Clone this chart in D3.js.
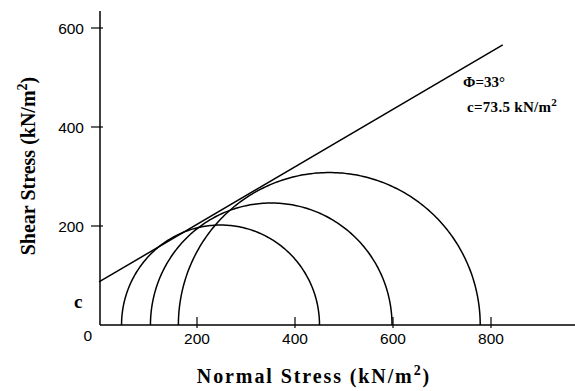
<!DOCTYPE html>
<html>
<head>
<meta charset="utf-8">
<script src="https://cdnjs.cloudflare.com/ajax/libs/d3/7.8.5/d3.min.js"></script>
<style>
  body { margin: 0; background: #fff; }
  svg { display: block; }
</style>
</head>
<body>
<div id="chart"></div>
<script>
// Mohr circles (kN/m2)
var sigma3 = [46, 105, 162];
var sigma1 = [450, 598, 778];
// failure envelope end points
var envX = [0, 824];
var envY = [87, 566];
var xTicks = [200, 400, 600, 800];
var yTicks = [200, 400, 600];

var w = 575, h = 391;

var svg = d3.select('#chart').append('svg')
  .attr('width', w).attr('height', h);

var x = d3.scaleLinear().domain([0, 800]).range([99, 491]);
var y = d3.scaleLinear().domain([0, 600]).range([325, 28]);

// axes lines
svg.append('line').attr('x1', x(0) + 1).attr('x2', x(0) + 1).attr('y1', 11).attr('y2', y(0))
  .attr('stroke', '#000').attr('stroke-width', 1.5);
svg.append('line').attr('x1', x(0) + 1).attr('x2', w).attr('y1', y(0)).attr('y2', y(0))
  .attr('stroke', '#000').attr('stroke-width', 1.5);

// y ticks
svg.selectAll('.ytick').data(yTicks).enter().append('line')
  .attr('class', 'ytick')
  .attr('x1', x(0) - 8).attr('x2', x(0) + 4)
  .attr('y1', function(d){ return y(d); }).attr('y2', function(d){ return y(d); })
  .attr('stroke', '#000').attr('stroke-width', 1.2);
svg.selectAll('.ylab').data(yTicks).enter().append('text')
  .attr('class', 'ylab')
  .attr('x', 84).attr('y', function(d){ return y(d) + 5.5; })
  .attr('text-anchor', 'end')
  .style('font-family', 'Liberation Sans, Arial, sans-serif').style('font-size', '15.5px')
  .text(function(d){ return d; });

// x ticks
svg.selectAll('.xtick').data(xTicks).enter().append('line')
  .attr('class', 'xtick')
  .attr('x1', function(d){ return x(d); }).attr('x2', function(d){ return x(d); })
  .attr('y1', y(0) - 8).attr('y2', y(0) + 3)
  .attr('stroke', '#000').attr('stroke-width', 1.2);
svg.selectAll('.xlab').data(xTicks).enter().append('text')
  .attr('class', 'xlab')
  .attr('x', function(d){ return x(d); }).attr('y', 344)
  .attr('text-anchor', 'middle')
  .style('font-family', 'Liberation Sans, Arial, sans-serif').style('font-size', '15.5px')
  .text(function(d){ return d; });

svg.append('text').attr('x', 92).attr('y', 340.5).attr('text-anchor', 'end')
  .style('font-family', 'Liberation Sans, Arial, sans-serif').style('font-size', '15.5px')
  .text('0');

// Mohr circles
var arc = d3.line().x(function(p){ return x(p[0]); }).y(function(p){ return y(p[1]); });
var circles = sigma3.map(function(s3, i){
  var c = (s3 + sigma1[i]) / 2, r = (sigma1[i] - s3) / 2;
  return d3.range(0, 181).map(function(a){
    var t = a * Math.PI / 180;
    return [c - r * Math.cos(t), r * Math.sin(t)];
  });
});
svg.selectAll('.mohr').data(circles).enter().append('path')
  .attr('class', 'mohr')
  .attr('d', arc)
  .attr('fill', 'none').attr('stroke', '#000').attr('stroke-width', 1.5);

// envelope
svg.append('path')
  .datum(envX.map(function(d, i){ return [d, envY[i]]; }))
  .attr('d', arc)
  .attr('fill', 'none').attr('stroke', '#000').attr('stroke-width', 1.5);

var serif = 'Liberation Serif, Times New Roman, serif';

// c label
svg.append('text').attr('x', 74).attr('y', 308)
  .style('font-family', serif).style('font-weight', 'bold').style('font-size', '19px')
  .text('c');

// annotations
svg.append('text').attr('x', 463).attr('y', 87)
  .style('font-family', serif).style('font-weight', 'bold').style('font-size', '15px')
  .text('\u03A6=33\u00B0');
var ct = svg.append('text').attr('x', 467).attr('y', 112)
  .style('font-family', serif).style('font-weight', 'bold').style('font-size', '15px')
  .style('letter-spacing', '0.3px');
ct.append('tspan').text('c=73.5 kN/m');
ct.append('tspan').attr('dy', -6).style('font-size', '11px').text('2');

// axis titles
var xt = svg.append('text').attr('x', 314).attr('y', 383).attr('text-anchor', 'middle')
  .style('font-family', serif).style('font-weight', 'bold').style('font-size', '20px')
  .style('letter-spacing', '1.9px');
xt.append('tspan').text('Normal Stress (kN/m');
xt.append('tspan').attr('dy', -8).style('font-size', '14px').text('2');
xt.append('tspan').attr('dy', 8).text(')');

var yt = svg.append('text').attr('transform', 'translate(35,166) rotate(-90)').attr('text-anchor', 'middle')
  .style('font-family', serif).style('font-weight', 'bold').style('font-size', '20px');
yt.append('tspan').text('Shear Stress (kN/m');
yt.append('tspan').attr('dy', -8).style('font-size', '14px').text('2');
yt.append('tspan').attr('dy', 8).text(')');
</script>
</body>
</html>
